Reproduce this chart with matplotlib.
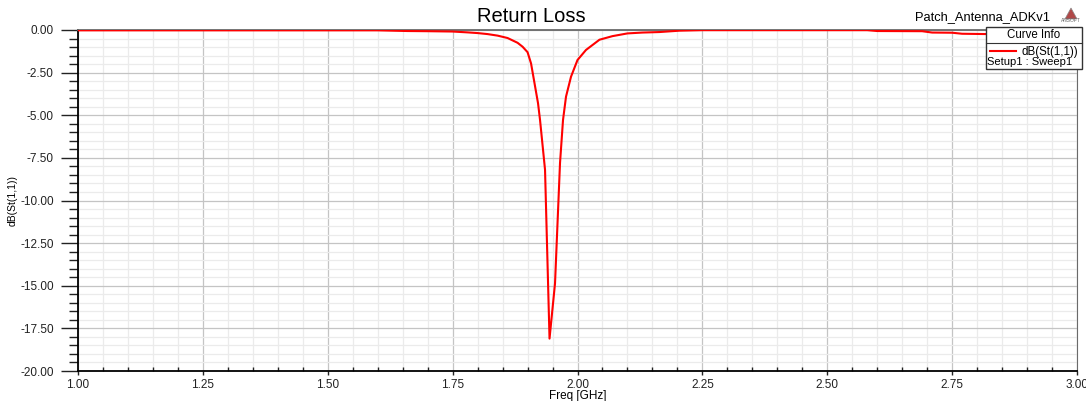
import numpy as np
import matplotlib
matplotlib.use("Agg")
from matplotlib import pyplot as plt
from matplotlib.patches import Rectangle, Polygon
from matplotlib.lines import Line2D
from matplotlib.ticker import MultipleLocator, FormatStrFormatter

plt.rcParams['font.family'] = ['Liberation Sans', 'DejaVu Sans']

# dB(St(1,1)) vs frequency
freq = [1.00, 1.30, 1.60, 1.66, 1.70, 1.75, 1.78, 1.80, 1.82, 1.84, 1.86,
        1.88, 1.89, 1.90, 1.907, 1.914, 1.921, 1.925, 1.935, 1.944, 1.955,
        1.965, 1.971, 1.977, 1.987, 2.00, 2.017, 2.044, 2.07, 2.10, 2.13,
        2.164, 2.204, 2.25, 2.40, 2.58, 2.60, 2.69, 2.71, 2.75, 2.77, 2.85, 3.00]
s11_db = [-0.02, -0.02, -0.02, -0.06, -0.07, -0.09, -0.14, -0.18, -0.24, -0.33, -0.47,
          -0.75, -0.98, -1.30, -1.96, -3.13, -4.30, -5.28, -8.2, -18.1, -14.86,
          -7.8, -5.28, -3.91, -2.74, -1.76, -1.17, -0.57, -0.36, -0.20, -0.15,
          -0.12, -0.04, -0.01, -0.01, -0.01, -0.06, -0.07, -0.15, -0.16, -0.22, -0.25, -0.30]

W, H = 1086, 401
fig = plt.figure(figsize=(W/100, H/100), dpi=100)
ax = fig.add_axes([78/W, 1-371/H, (1077-78)/W, (371-30)/H])

def px(x, y):
    return x/W, 1-y/H

ax.plot(freq, s11_db, color='#ff0000', linewidth=1.5, zorder=3)

ax.set_xlim(1.0, 3.0)
ax.set_ylim(-20.0, 0.0)
ax.xaxis.set_major_locator(MultipleLocator(0.25))
ax.xaxis.set_minor_locator(MultipleLocator(0.05))
ax.yaxis.set_major_locator(MultipleLocator(2.5))
ax.yaxis.set_minor_locator(MultipleLocator(0.5))
ax.xaxis.set_major_formatter(FormatStrFormatter('%.2f'))
ax.yaxis.set_major_formatter(FormatStrFormatter('%.2f'))

ax.grid(which='major', color='#c4c4c4', linewidth=0.9)
ax.grid(which='minor', color='#ebebeb', linewidth=0.9)
ax.set_axisbelow(True)

ax.tick_params(axis='y', which='major', direction='out', length=12.5, width=1.0,
               labelsize=8.5, pad=5, colors='#222222')
ax.tick_params(axis='y', which='minor', direction='out', length=6.5, width=1.0, color='#222222')
ax.tick_params(axis='x', which='major', direction='out', length=3, width=1.0,
               labelsize=8.5, pad=3, colors='#222222')
ax.tick_params(axis='x', which='minor', direction='in', length=3, width=1.0, color='#222222')

for s in ['left', 'bottom']:
    ax.spines[s].set_color('black')
    ax.spines[s].set_linewidth(1.3)
ax.spines['top'].set_color('#6a6a6a')
ax.spines['top'].set_linewidth(1.3)
ax.spines['right'].set_color('#6a6a6a')

ax.set_xlabel('Freq [GHz]', fontsize=8.5, labelpad=-1)
ax.set_ylabel('dB(St(1,1))', fontsize=7.5, labelpad=2)

fig.text(*px(531, 16), 'Return Loss', fontsize=14.5, ha='center', va='center')
fig.text(*px(982, 17), 'Patch_Antenna_ADKv1', fontsize=9.3, ha='center', va='center')

# ANSOFT logo
fig.add_artist(Polygon([px(1071, 8), px(1065, 19), px(1077, 19)], closed=True,
                       facecolor='#b04848', edgecolor='#888888', linewidth=0.5,
                       transform=fig.transFigure))
fig.text(*px(1071, 21), 'ANSOFT', fontsize=3.5, ha='center', va='center', color='#666666')

# Curve Info legend box
fig.add_artist(Rectangle(px(986, 69), 96/W, 42/H, transform=fig.transFigure,
                         facecolor='white', edgecolor='#333333', linewidth=1.0, zorder=5))
fig.add_artist(Line2D([986/W, 1082/W], [1-43/H, 1-43/H], transform=fig.transFigure,
                      color='#333333', linewidth=0.8, zorder=6))
fig.text(*px(1034, 35), 'Curve Info', fontsize=8.3, ha='center', va='center', zorder=7)
fig.add_artist(Line2D([990/W, 1016/W], [1-51/H, 1-51/H], transform=fig.transFigure,
                      color='#ff0000', linewidth=1.5, zorder=6))
fig.text(*px(1078, 51.5), 'dB(St(1,1))', fontsize=8.3, ha='right', va='center', zorder=7)
fig.text(*px(987, 62), 'Setup1 : Sweep1', fontsize=8.0, ha='left', va='center', zorder=7)

fig.savefig('out.png', dpi=100)
